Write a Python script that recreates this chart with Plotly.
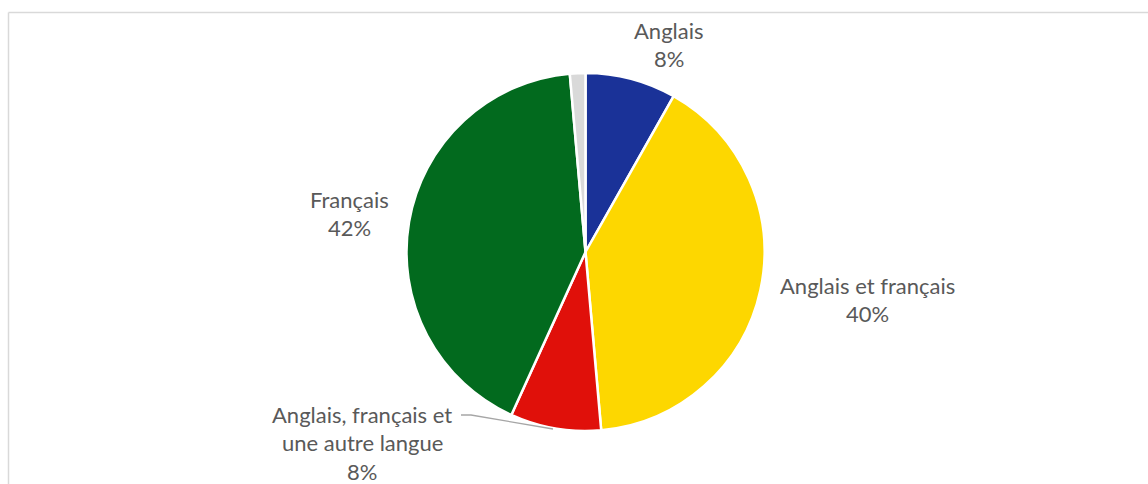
import plotly.graph_objects as go

W, H = 1148, 484

# Langue de travail — répartition
labels = ["Anglais", "Anglais et français", "Anglais, français et une autre langue", "Français", "Autre"]
values = [8.2, 40.4, 8.2, 41.8, 1.4]
colors = ["#1A3298", "#FDD700", "#E0100A", "#026A1E", "#D9D9D9"]

# lignes des étiquettes (nom découpé) ; la dernière tranche n'a pas d'étiquette
label_lines = [["Anglais"], ["Anglais et français"], ["Anglais, français et", "une autre langue"], ["Français"], None]
label_pos = [(669, 30), (867, 285), (362, 414), (349, 199)]  # centre de la première ligne, en px
line_gap = 28.5

def px(x):
    return x / W

def py(y):
    return 1 - y / H

cx, cy, r = 585.5, 252, 179

fig = go.Figure(go.Pie(
    labels=labels,
    values=values,
    marker=dict(colors=colors, line=dict(color="white", width=2.5)),
    sort=False,
    direction="clockwise",
    rotation=0,
    textinfo="none",
    hoverinfo="label+percent",
    showlegend=False,
    domain=dict(x=[px(cx - r), px(cx + r)], y=[py(cy + r), py(cy - r)]),
))

annotations = []
total = sum(values)
for i, lines in enumerate(label_lines):
    if lines is None:
        continue
    x0, y0 = label_pos[i]
    pct = f"{round(values[i] / total * 100)}%"
    for k, t in enumerate(lines + [pct]):
        annotations.append(dict(
            x=px(x0), y=py(y0 + k * line_gap), xref="paper", yref="paper",
            text=t, showarrow=False, xanchor="center", yanchor="middle",
            font=dict(family="Lato, 'Open Sans', sans-serif", size=22, color="#595959"),
        ))

shapes = [
    # cadre du graphique
    dict(type="line", xref="paper", yref="paper", x0=px(8.5), x1=1, y0=py(12.5), y1=py(12.5),
         line=dict(color="#D9D9D9", width=1.5)),
    dict(type="line", xref="paper", yref="paper", x0=px(8.5), x1=px(8.5), y0=py(12.5), y1=0,
         line=dict(color="#D9D9D9", width=1.5)),
    # ligne de rappel de l'étiquette du bas
    dict(type="path", xref="paper", yref="paper",
         path=f"M {px(461)} {py(415)} L {px(471)} {py(415)} L {px(553)} {py(429)}",
         line=dict(color="#A6A6A6", width=1.3)),
]

fig.update_layout(
    width=W, height=H,
    margin=dict(l=0, r=0, t=0, b=0),
    paper_bgcolor="white",
    plot_bgcolor="white",
    annotations=annotations,
    shapes=shapes,
)

fig.write_html("out.html")
